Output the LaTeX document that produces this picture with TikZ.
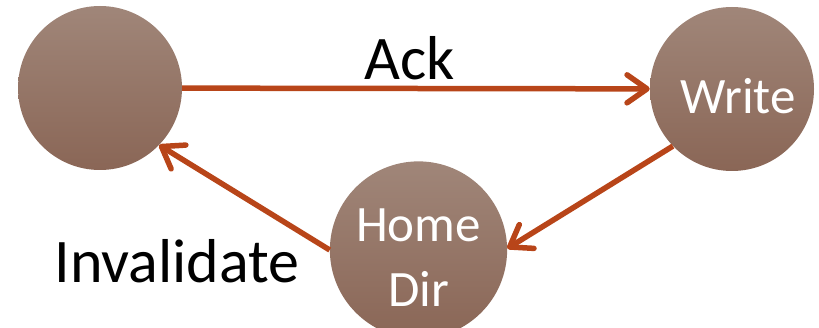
\documentclass[tikz,border=0pt]{standalone}
\usepackage{fontspec}
\setmainfont{Carlito}
\usetikzlibrary{arrows.meta}

\definecolor{msgline}{HTML}{B84519}
\definecolor{statetop}{HTML}{A08679}
\definecolor{statebot}{HTML}{8A6656}

\begin{document}
\begin{tikzpicture}[x=1pt,y=-1pt,
  state/.style={circle,minimum size=164pt,inner sep=0pt,draw=none,
    top color=statetop,bottom color=statebot,
    text=white,align=center,font=\fontsize{51}{65}\selectfont},
  msg/.style={draw=msgline,line width=5.5pt,
    -{Straight Barb[length=20pt,width=28pt,round]}},
  lbl/.style={anchor=base,inner sep=0pt,font=\fontsize{62}{70}\selectfont}]
\path[use as bounding box] (0,0) rectangle (819,328);
% the three caches
\node[state] (req) at (100,88) {};
\node[state,text height=55pt,text depth=6pt] (write) at (732,89) {\hspace{12pt}Write};
\node[state,text height=120pt,text depth=6pt] (home) at (418.5,250) {Home\\Dir};
% messages
\draw[msg] (req) -- (write);
\draw[msg] (write.224) -- (home.1);
\draw[msg] (home.180) -- (req.-44);
\node[lbl] (ack) at (410,80) {Ack};
\node[lbl] (inv) at (177,283) {Invalidate};
\end{tikzpicture}
\end{document}
